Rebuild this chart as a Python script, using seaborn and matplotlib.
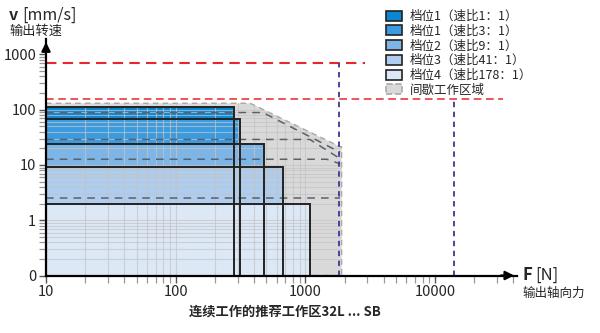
import numpy as np
import pandas as pd
import matplotlib
matplotlib.use('Agg')
import matplotlib.pyplot as plt
import seaborn as sns
from matplotlib.patches import Patch, Rectangle
from matplotlib.ticker import NullFormatter, LogLocator

# ---------------- data ----------------
gear_labels = ['档位1（速比1：1）', '档位1（速比3：1）', '档位2（速比9：1）',
               '档位3（速比41：1）', '档位4（速比178：1）']
gear_force = [280, 315, 480, 670, 1080]      # N
gear_speed = [110, 67, 24, 9.2, 2.0]         # mm/s
gear_colors = ['#0a86d2', '#3a9be0', '#7db5e7', '#aecdef', '#dce8f6']

zone_label = '间歇工作区域'
zone_force = [10, 375, 1850, 1900, 1900, 10]
zone_speed = [131, 131, 21.4, 21.4, 0.1, 0.1]

dash_force = [[10, 470, 1850], [10, 1080, 1850], [10, 1460, 1850], [10, 1850]]
dash_speed = [[89, 89, 17], [29, 29, 13], [12.7, 12.7, 10.5], [2.55, 2.55]]

red_speed = [693, 158]
red_force_end = [2880, 33400]
purple_force = [1820, 14000]
purple_speed_top = [693, 158]

x_ticks = [10, 100, 1000, 10000]
x_ticklabels = ['10', '100', '1000', '10000']
y_ticks = [0.1, 1, 10, 100, 1000]
y_ticklabels = ['0', '1', '10', '100', '1000']
x_limits = (10, 42700)
y_limits = (0.1, 1884)

# ---------------- style ----------------
sns.set_theme(style='white')
plt.rcParams['font.family'] = ['Noto Sans CJK SC', 'DejaVu Sans']

fig = plt.figure(figsize=(6, 3.33), dpi=100)
ax = fig.add_axes([46 / 600, 1 - 275.5 / 333, (517 - 46) / 600, (275.5 - 39.3) / 333])
ax.set_xscale('log')
ax.set_yscale('log')
ax.set_xlim(*x_limits)
ax.set_ylim(*y_limits)
ax.set_facecolor('white')

# intermittent zone
zone = ax.fill(zone_force, zone_speed, facecolor='#d9d9d9', edgecolor='#a8a8a8',
               linestyle=(0, (4, 3)), linewidth=1.0, zorder=1)[0]

# gear fills (later gears on top)
for i, (F, v, c) in enumerate(zip(gear_force, gear_speed, gear_colors)):
    ax.fill_between([x_limits[0], F], y_limits[0], v, color=c, linewidth=0, zorder=2 + i * 0.01)

# grid clipped to zone
xs = [m * 10 ** k for k in range(1, 4) for m in range(1, 10)]
ys = [m * 10 ** k for k in range(-1, 3) for m in range(1, 10)]
vl = ax.vlines(xs, y_limits[0], y_limits[1], colors='#c4c4c4', linewidth=0.8, alpha=0.7, zorder=3)
hl = ax.hlines(ys, x_limits[0], x_limits[1], colors='#c4c4c4', linewidth=0.8, alpha=0.7, zorder=3)
vl.set_clip_path(zone)
hl.set_clip_path(zone)

# intermittent dashed lines per gear
for fx, sy in zip(dash_force, dash_speed):
    df = pd.DataFrame({'F': fx, 'v': sy})
    sns.lineplot(data=df, x='F', y='v', ax=ax, estimator=None, sort=False,
                 color='#5b6168', linewidth=1.1, dashes=False, zorder=3.5,
                 linestyle=(0, (5, 4)), legend=False)

# gear outlines
for F, v in zip(gear_force, gear_speed):
    ax.add_patch(Rectangle((x_limits[0], y_limits[0]), F - x_limits[0], v - y_limits[0],
                           fill=False, edgecolor='#222222', linewidth=1.4, zorder=4))

# red speed limits
for v, fe, lw in zip(red_speed, red_force_end, [1.5, 1.1]):
    ax.plot([x_limits[0], fe], [v, v], color='#e8262b', linestyle=(0, (5, 3)), linewidth=lw, zorder=5)

# purple force limits
for F, vt in zip(purple_force, purple_speed_top):
    ax.plot([F, F], [y_limits[0], vt], color='#3d3792', linestyle=(0, (3, 2.5)), linewidth=1.3, zorder=5)

# axes
for s in ['top', 'right']:
    ax.spines[s].set_visible(False)
for s in ['left', 'bottom']:
    ax.spines[s].set_color('black')
    ax.spines[s].set_linewidth(1.6)
    ax.spines[s].set_zorder(6)

ax.set_xticks(x_ticks, x_ticklabels)
ax.set_yticks(y_ticks, y_ticklabels)
ax.xaxis.set_minor_locator(LogLocator(base=10, subs=np.arange(2, 10), numticks=20))
ax.yaxis.set_minor_locator(LogLocator(base=10, subs=np.arange(2, 10), numticks=20))
ax.xaxis.set_minor_formatter(NullFormatter())
ax.yaxis.set_minor_formatter(NullFormatter())
ax.tick_params(which='major', direction='out', length=5, width=1, color='#555555',
               labelsize=10.5, pad=2, bottom=True, left=True)
ax.tick_params(which='minor', direction='out', length=5, width=0.9, color='#999999',
               bottom=True, left=True)
ax.set_xlabel('')
ax.set_ylabel('')

# arrows
ax.annotate('', xy=(1.0, 0), xytext=(0.96, 0), xycoords='axes fraction',
            arrowprops=dict(arrowstyle='-|>', color='black', lw=1.6, mutation_scale=13),
            annotation_clip=False, zorder=7)
ax.annotate('', xy=(0, 1.0), xytext=(0, 0.93), xycoords='axes fraction',
            arrowprops=dict(arrowstyle='-|>', color='black', lw=1.6, mutation_scale=13),
            annotation_clip=False, zorder=7)

# labels
fig.text(9 / 600, 1 - 20 / 333, 'v', fontsize=11.5, fontweight='bold', va='baseline', ha='left')
fig.text(22 / 600, 1 - 20 / 333, '[mm/s]', fontsize=11.5, va='baseline', ha='left')
fig.text(9 / 600, 1 - 31.5 / 333, '输出转速', fontsize=9.5, va='center', ha='left')

fig.text(522 / 600, 1 - 275 / 333, 'F', fontsize=12, fontweight='bold', va='center', ha='left')
fig.text(535 / 600, 1 - 275 / 333, '[N]', fontsize=12, va='center', ha='left')
fig.text(522 / 600, 1 - 293 / 333, '输出轴向力', fontsize=9, va='center', ha='left')

fig.text(285 / 600, 1 - 312 / 333, '连续工作的推荐工作区32L ... SB', fontsize=9.5,
         fontweight='bold', va='center', ha='center')

# legend
handles = [Patch(facecolor=c, edgecolor='#222222', linewidth=1.2) for c in gear_colors]
handles.append(Patch(facecolor='#d9d9d9', edgecolor='#aaaaaa', linestyle='--', linewidth=1.2))
labels = gear_labels + [zone_label]
fig.legend(handles, labels, loc='upper left', bbox_to_anchor=(386 / 600, 1 - 10 / 333),
           frameon=False, fontsize=9, handlelength=1.3, handleheight=0.85,
           handletextpad=0.6, labelspacing=0.14, borderpad=0, borderaxespad=0)

fig.savefig('out.png', dpi=100)
